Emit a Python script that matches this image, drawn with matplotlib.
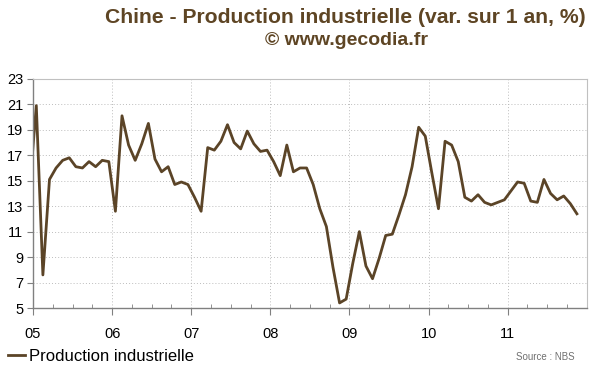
import numpy as np
import matplotlib
matplotlib.use("Agg")
import matplotlib.pyplot as plt
from matplotlib.ticker import MultipleLocator

plt.rcParams['font.family'] = ['Liberation Sans', 'DejaVu Sans']

# monthly values, Dec 2004 .. Nov 2011 (year-on-year change, %)
start_year = 2004
start_month = 12
prod = [14.4,
        20.9, 7.6, 15.1, 16.0, 16.6, 16.8, 16.1, 16.0, 16.5, 16.1, 16.6, 16.5,
        12.6, 20.1, 17.8, 16.6, 17.9, 19.5, 16.7, 15.7, 16.1, 14.7, 14.9, 14.7,
        13.7, 12.6, 17.6, 17.4, 18.1, 19.4, 18.0, 17.5, 18.9, 17.9, 17.3, 17.4,
        16.5, 15.4, 17.8, 15.7, 16.0, 16.0, 14.7, 12.8, 11.4, 8.2, 5.4, 5.7,
        8.5, 11.0, 8.3, 7.3, 8.9, 10.7, 10.8, 12.3, 13.9, 16.1, 19.2, 18.5,
        15.6, 12.8, 18.1, 17.8, 16.5, 13.7, 13.4, 13.9, 13.3, 13.1, 13.3, 13.5,
        14.2, 14.9, 14.8, 13.4, 13.3, 15.1, 14.0, 13.5, 13.8, 13.2, 12.4]
year_labels = ["05", "06", "07", "08", "09", "10", "11"]
y_ticks = list(range(5, 24, 2))

# decimal-year positions, points placed mid-month
months = np.arange(len(prod)) + (start_month - 1)
x = start_year + (months + 0.5) / 12.0

line_col = "#5b4427"
title_col = "#5e4524"
grid_col = "#b4b4b4"

fig = plt.figure(figsize=(6.0, 3.72), dpi=100)
ax = fig.add_axes([0.055, 0.172, 0.923, 0.616])

ax.plot(x, prod, color=line_col, lw=2.0, label="Production industrielle")

ax.set_xlim(2005, 2012)
ax.set_ylim(5, 23)
ax.set_yticks(y_ticks)
ax.set_yticklabels([str(v) for v in y_ticks], fontsize=10.5)
ax.set_xticks([2005 + i for i in range(len(year_labels))])
ax.set_xticklabels(year_labels, fontsize=10.5)
ax.xaxis.set_minor_locator(MultipleLocator(0.25))

ax.grid(True, which="major", color=grid_col, ls=(0, (1.2, 2.5)), lw=0.6)
ax.tick_params(axis="x", which="major", direction="out", length=5, color="#808080", pad=9)
ax.tick_params(axis="x", which="minor", direction="in", length=3, color="#808080")
ax.tick_params(axis="y", which="major", direction="out", length=4, color="#808080", pad=3)
for s in ["left", "bottom"]:
    ax.spines[s].set_color("#808080")
    ax.spines[s].set_linewidth(1.0)
for s in ["top", "right"]:
    ax.spines[s].set_color("#c0c0c0")
    ax.spines[s].set_linewidth(0.8)

fig.text(0.575, 0.952, "Chine - Production industrielle (var. sur 1 an, %)",
         ha="center", va="center", fontsize=15.2, fontweight="bold", color=title_col)
fig.text(0.577, 0.892, "© www.gecodia.fr", ha="center", va="center",
         fontsize=14, fontweight="bold", color=title_col)

fig.legend(loc="lower left", bbox_to_anchor=(0.0, 0.0), frameon=False, fontsize=12,
           handlelength=1.0, handletextpad=0.25, borderaxespad=0.2, borderpad=0.3)
fig.text(0.958, 0.04, "Source : NBS", ha="right", va="center", fontsize=7, color="#707070")

fig.savefig("out.png", dpi=100)
